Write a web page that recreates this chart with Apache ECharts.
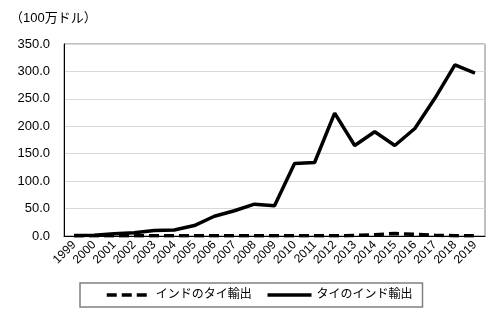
<!DOCTYPE html>
<html><head><meta charset="utf-8">
<script src="https://cdn.jsdelivr.net/npm/echarts@6/dist/echarts.min.js"></script>
<style>html,body{margin:0;padding:0;background:#fff}#c{width:497px;height:321px}</style>
</head><body><div id="c"></div>
<script>
const years = ['1999','2000','2001','2002','2003','2004','2005','2006','2007','2008','2009','2010','2011','2012','2013','2014','2015','2016','2017','2018','2019'];
const indiaToThai = [0.3,0.3,0.3,0.3,0.5,0.5,0.4,0.4,0.4,0.4,0.4,0.4,0.4,0.5,0.8,2.5,4.5,3.0,1.2,0.5,0.4];
const thaiToIndia = [1,1.5,4,6,10,11,19,36,46,58,55,132,134,224,165,190,165,196,251,312,297];
const yTicks = [0,50,100,150,200,250,300,350];
const seriesNames = ['インドのタイ輸出','タイのインド輸出'];
const unitLabel = '（100万ドル）';
const font = 'Arial, "Noto Sans CJK JP", sans-serif';
const chart = echarts.init(document.getElementById('c'), null, {renderer:'canvas'});
chart.setOption({
  animation:false,
  backgroundColor:'#fff',
  graphic:[{type:'text',left:10,top:12,style:{text:unitLabel,font:'13px '+font,fill:'#000'}}],
  grid:{left:64,top:44,right:12,bottom:85,show:true,borderColor:'#808080',borderWidth:1},
  xAxis:{type:'category',data:years,boundaryGap:true,
    axisLine:{lineStyle:{color:'#000',width:1}},axisTick:{show:false},
    axisLabel:{rotate:45,interval:0,fontSize:12,color:'#000',fontFamily:font,margin:7}},
  yAxis:{type:'value',min:yTicks[0],max:yTicks[yTicks.length-1],interval:50,
    axisLine:{show:true,lineStyle:{color:'#000'}},axisTick:{show:false},
    splitLine:{lineStyle:{color:'#d9d9d9'}},
    axisLabel:{formatter:v=>v.toFixed(1),fontSize:13,color:'#000',fontFamily:font,margin:14}},
  legend:{left:80,top:283,itemWidth:44,itemHeight:14,itemGap:14,
    padding:[6,10,6,25],borderColor:'#808080',borderWidth:1.5,
    itemStyle:{opacity:0},
    lineStyle:{width:3.5},
    textStyle:{fontSize:12,color:'#000',fontFamily:font},
    data:seriesNames},
  series:[
    {name:seriesNames[0],type:'line',data:indiaToThai,symbol:'none',
     lineStyle:{color:'#000',width:3.5,type:[10,5]},itemStyle:{color:'#000'}},
    {name:seriesNames[1],type:'line',data:thaiToIndia,symbol:'none',
     lineStyle:{color:'#000',width:3.5},itemStyle:{color:'#000'}}
  ]
});
</script></body></html>
